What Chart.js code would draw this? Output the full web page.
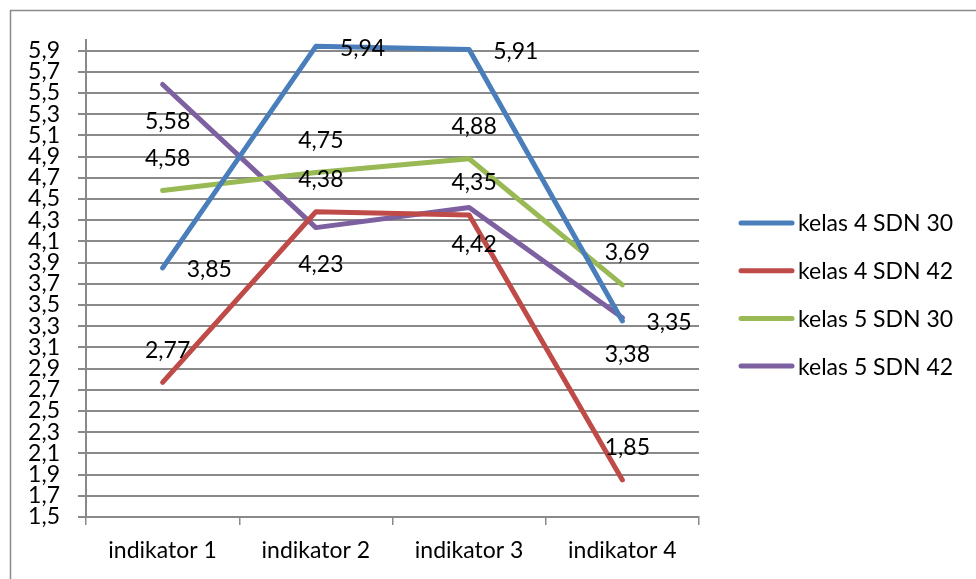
<!DOCTYPE html>
<html lang="id">
<head>
    <meta charset="UTF-8">
    <title>Indikator per kelas</title>
    <script src="https://cdn.jsdelivr.net/npm/chart.js"></script>
    <style>
        html, body { margin: 0; padding: 0; background: #fff; }
        #wrap { width: 976px; height: 579px; position: relative; }
    </style>
</head>
<body>
<div id="wrap">
    <canvas id="indikatorChart" width="976" height="579"></canvas>
</div>

<script>
// values
const categories = ['indikator 1', 'indikator 2', 'indikator 3', 'indikator 4'];
const kelas4Sdn30 = [3.85, 5.94, 5.91, 3.35];
const kelas4Sdn42 = [2.77, 4.38, 4.35, 1.85];
const kelas5Sdn30 = [4.58, 4.75, 4.88, 3.69];
const kelas5Sdn42 = [5.58, 4.23, 4.42, 3.38];
const seriesNames = ['kelas 4 SDN 30', 'kelas 4 SDN 42', 'kelas 5 SDN 30', 'kelas 5 SDN 42'];
const yTicks = [1.5, 1.7, 1.9, 2.1, 2.3, 2.5, 2.7, 2.9, 3.1, 3.3, 3.5, 3.7, 3.9,
                4.1, 4.3, 4.5, 4.7, 4.9, 5.1, 5.3, 5.5, 5.7, 5.9];

const colors = ['#4a7ebb', '#be4b48', '#98b954', '#7d60a0'];
// where the value label sits relative to its point
const labelPlace = ['right', 'above', 'above', 'below'];
const FONT = 'Lato, "Open Sans", sans-serif';
const FONT_SIZE = 23;

function fmt(v) {
    return v.toFixed(2).replace('.', ',');
}

// frame around the whole chart
const framePlugin = {
    id: 'frame',
    beforeDraw(chart) {
        const ctx = chart.ctx;
        ctx.save();
        ctx.strokeStyle = '#8a8a8a';
        ctx.lineWidth = 1.5;
        ctx.strokeRect(10.5, 10.5, 1100, 1100);
        ctx.restore();
    }
};

// value labels next to each point
const valueLabels = {
    id: 'valueLabels',
    afterDatasetsDraw(chart) {
        const ctx = chart.ctx;
        ctx.save();
        ctx.font = FONT_SIZE + 'px ' + FONT;
        ctx.fillStyle = '#000';
        ctx.textBaseline = 'middle';
        chart.data.datasets.forEach((ds, i) => {
            const meta = chart.getDatasetMeta(i);
            meta.data.forEach((pt, j) => {
                const txt = fmt(ds.data[j]);
                const place = labelPlace[i];
                if (place === 'right') {
                    ctx.textAlign = 'left';
                    ctx.fillText(txt, pt.x + 24, pt.y + 2);
                } else if (place === 'above') {
                    ctx.textAlign = 'center';
                    ctx.fillText(txt, pt.x + 5, pt.y - 32);
                } else {
                    ctx.textAlign = 'center';
                    ctx.fillText(txt, pt.x + 5, pt.y + 37);
                }
            });
        });
        ctx.restore();
    }
};

// legend on the right, drawn by hand to keep Excel-like spacing
const sideLegend = {
    id: 'sideLegend',
    afterDraw(chart) {
        const ctx = chart.ctx;
        ctx.save();
        ctx.font = FONT_SIZE + 'px ' + FONT;
        ctx.textAlign = 'left';
        ctx.textBaseline = 'middle';
        chart.data.datasets.forEach((ds, i) => {
            const y = 223 + i * 47.7;
            ctx.strokeStyle = ds.borderColor;
            ctx.lineWidth = 5;
            ctx.lineCap = 'round';
            ctx.beginPath();
            ctx.moveTo(741, y);
            ctx.lineTo(792, y);
            ctx.stroke();
            ctx.fillStyle = '#000';
            ctx.fillText(ds.label, 798, y + 1);
        });
        ctx.restore();
    }
};

const allSeries = [kelas4Sdn30, kelas4Sdn42, kelas5Sdn30, kelas5Sdn42];

new Chart(document.getElementById('indikatorChart'), {
    type: 'line',
    data: {
        labels: categories,
        datasets: allSeries.map((values, i) => ({
            label: seriesNames[i],
            data: values,
            borderColor: colors[i],
            backgroundColor: colors[i],
            borderWidth: 5,
            borderCapStyle: 'round',
            borderJoinStyle: 'round',
            pointRadius: 0,
            tension: 0,
            fill: false
        }))
    },
    options: {
        responsive: false,
        animation: false,
        layout: { padding: { top: 40, right: 277, bottom: 0, left: 0 } },
        plugins: {
            legend: { display: false },
            tooltip: { enabled: false }
        },
        scales: {
            x: {
                offset: true,
                grid: {
                    offset: true,
                    drawOnChartArea: false,
                    drawTicks: true,
                    tickLength: 8,
                    color: '#898989',
                    lineWidth: 1.5
                },
                border: { display: true, color: '#898989', width: 2 },
                ticks: {
                    color: '#000',
                    font: { family: FONT, size: FONT_SIZE },
                    padding: 12,
                    maxRotation: 0
                },
                afterFit(scale) { scale.height = 62; }
            },
            y: {
                min: 1.5,
                max: 6.0,
                afterBuildTicks(scale) {
                    scale.ticks = yTicks.map(v => ({ value: v }));
                },
                grid: {
                    color: '#898989',
                    lineWidth: 2,
                    drawTicks: true,
                    tickLength: 8
                },
                border: { display: true, color: '#898989', width: 2 },
                ticks: {
                    autoSkip: false,
                    color: '#000',
                    font: { family: FONT, size: FONT_SIZE },
                    padding: 18,
                    callback: v => v.toFixed(1).replace('.', ',')
                },
                afterFit(scale) { scale.width = 86; }
            }
        }
    },
    plugins: [framePlugin, valueLabels, sideLegend]
});
</script>
</body>
</html>
